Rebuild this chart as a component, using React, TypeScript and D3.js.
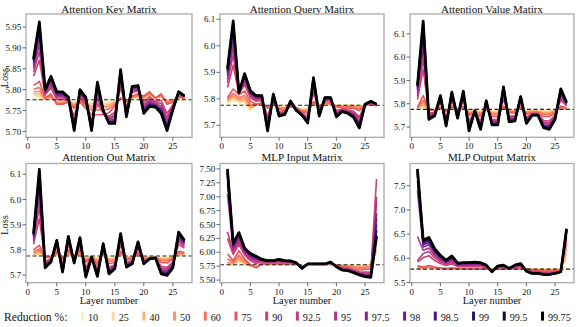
import React from 'react';
import * as d3 from 'd3';

// ---------- data ----------
const layers = [1, 2, 3, 4, 5, 6, 7, 8, 9, 10, 11, 12, 13, 14, 15, 16, 17, 18, 19, 20, 21, 22, 23, 24, 25, 26, 27];
const reductions = ['10', '25', '40', '50', '60', '75', '90', '92.5', '95', '97.5', '98', '98.5', '99', '99.5', '99.75'];
const seriesColors = ['#fcf6b4', '#fdd89c', '#fdb27b', '#fc9566', '#f5735c', '#e8555f', '#d0416d', '#c23b7e', '#a9338c', '#86268f', '#6a1f92', '#4b1486', '#26175a', '#100c26', '#000000'];
const baselineLoss = 5.776;
const xTicks = [0, 5, 10, 15, 20, 25];

// Attention Key Matrix (one row per reduction %)
const attnKey = [
  [5.783,5.776,5.776,5.778,5.772,5.772,5.774,5.770,5.776,5.772,5.770,5.774,5.772,5.772,5.774,5.778,5.776,5.779,5.780,5.778,5.785,5.780,5.782,5.776,5.776,5.780,5.776],
  [5.787,5.783,5.777,5.780,5.771,5.771,5.773,5.768,5.775,5.769,5.766,5.769,5.767,5.768,5.772,5.778,5.775,5.780,5.782,5.779,5.787,5.780,5.783,5.774,5.775,5.781,5.777],
  [5.791,5.789,5.777,5.782,5.770,5.770,5.773,5.766,5.774,5.767,5.761,5.764,5.762,5.764,5.770,5.779,5.774,5.781,5.783,5.780,5.788,5.780,5.784,5.773,5.774,5.782,5.777],
  [5.795,5.796,5.778,5.783,5.769,5.769,5.772,5.763,5.773,5.764,5.757,5.759,5.758,5.760,5.768,5.779,5.773,5.782,5.785,5.781,5.790,5.780,5.786,5.771,5.773,5.782,5.778],
  [5.801,5.805,5.779,5.786,5.767,5.767,5.771,5.760,5.772,5.761,5.751,5.752,5.751,5.754,5.765,5.779,5.772,5.783,5.787,5.783,5.792,5.780,5.787,5.769,5.772,5.783,5.779],
  [5.810,5.820,5.780,5.790,5.765,5.765,5.770,5.755,5.770,5.755,5.740,5.740,5.740,5.745,5.760,5.780,5.770,5.785,5.790,5.785,5.795,5.780,5.790,5.765,5.770,5.785,5.780],
  [5.832,5.870,5.787,5.805,5.776,5.776,5.774,5.736,5.781,5.764,5.727,5.767,5.744,5.736,5.746,5.804,5.758,5.793,5.797,5.770,5.783,5.772,5.774,5.743,5.764,5.789,5.782],
  [5.842,5.891,5.790,5.811,5.780,5.780,5.776,5.729,5.785,5.769,5.721,5.779,5.745,5.732,5.740,5.814,5.753,5.797,5.800,5.764,5.778,5.769,5.767,5.734,5.761,5.790,5.783],
  [5.850,5.908,5.792,5.816,5.784,5.784,5.777,5.722,5.789,5.772,5.716,5.788,5.746,5.729,5.735,5.822,5.748,5.799,5.802,5.759,5.773,5.766,5.761,5.726,5.759,5.791,5.783],
  [5.857,5.925,5.795,5.821,5.787,5.787,5.779,5.716,5.792,5.775,5.712,5.798,5.747,5.726,5.730,5.830,5.744,5.802,5.805,5.754,5.769,5.764,5.755,5.718,5.757,5.792,5.784],
  [5.862,5.936,5.796,5.824,5.790,5.790,5.780,5.712,5.795,5.777,5.709,5.804,5.748,5.724,5.726,5.836,5.741,5.804,5.806,5.751,5.766,5.762,5.751,5.713,5.755,5.793,5.784],
  [5.866,5.945,5.798,5.827,5.791,5.791,5.781,5.708,5.796,5.779,5.707,5.809,5.749,5.722,5.724,5.840,5.739,5.805,5.808,5.748,5.764,5.761,5.749,5.710,5.754,5.794,5.784],
  [5.870,5.952,5.799,5.829,5.793,5.793,5.781,5.706,5.798,5.780,5.705,5.813,5.749,5.721,5.722,5.843,5.737,5.806,5.809,5.746,5.762,5.760,5.746,5.706,5.753,5.794,5.785],
  [5.872,5.958,5.799,5.831,5.794,5.794,5.782,5.704,5.799,5.781,5.703,5.816,5.750,5.720,5.720,5.846,5.736,5.807,5.809,5.744,5.761,5.759,5.744,5.704,5.753,5.795,5.785],
  [5.874,5.962,5.800,5.832,5.795,5.795,5.782,5.702,5.800,5.782,5.702,5.818,5.750,5.719,5.719,5.848,5.735,5.808,5.810,5.743,5.760,5.758,5.743,5.702,5.752,5.795,5.785],
];

// Attention Query Matrix
const attnQuery = [
  [5.785,5.792,5.785,5.780,5.755,5.776,5.776,5.770,5.776,5.772,5.772,5.776,5.768,5.762,5.766,5.778,5.774,5.778,5.778,5.776,5.778,5.778,5.778,5.776,5.776,5.778,5.774],
  [5.788,5.799,5.790,5.788,5.760,5.777,5.777,5.769,5.777,5.770,5.769,5.775,5.768,5.760,5.763,5.780,5.773,5.780,5.779,5.775,5.776,5.776,5.776,5.773,5.776,5.778,5.774],
  [5.791,5.806,5.794,5.795,5.766,5.777,5.779,5.769,5.779,5.768,5.767,5.774,5.767,5.758,5.760,5.782,5.773,5.782,5.780,5.774,5.774,5.774,5.774,5.770,5.776,5.779,5.774],
  [5.794,5.812,5.799,5.803,5.771,5.778,5.780,5.768,5.780,5.767,5.764,5.773,5.767,5.757,5.757,5.783,5.772,5.783,5.781,5.773,5.772,5.772,5.772,5.767,5.776,5.779,5.774],
  [5.798,5.821,5.805,5.813,5.778,5.779,5.782,5.767,5.782,5.764,5.761,5.772,5.766,5.754,5.752,5.786,5.771,5.786,5.783,5.772,5.770,5.770,5.770,5.762,5.775,5.779,5.775],
  [5.805,5.837,5.815,5.830,5.790,5.780,5.785,5.765,5.785,5.760,5.755,5.770,5.765,5.750,5.745,5.790,5.770,5.790,5.785,5.770,5.765,5.765,5.765,5.755,5.775,5.780,5.775],
  [5.843,5.927,5.818,5.853,5.804,5.791,5.794,5.735,5.797,5.751,5.750,5.778,5.762,5.746,5.732,5.822,5.758,5.795,5.792,5.757,5.760,5.758,5.753,5.732,5.777,5.784,5.777],
  [5.860,5.966,5.820,5.863,5.810,5.796,5.799,5.722,5.802,5.748,5.748,5.781,5.761,5.744,5.727,5.835,5.753,5.798,5.795,5.751,5.759,5.755,5.748,5.723,5.778,5.786,5.778],
  [5.873,5.996,5.821,5.870,5.815,5.800,5.802,5.712,5.805,5.745,5.746,5.784,5.759,5.743,5.723,5.846,5.748,5.799,5.797,5.746,5.757,5.753,5.743,5.715,5.778,5.787,5.778],
  [5.886,6.027,5.822,5.878,5.820,5.804,5.805,5.701,5.809,5.742,5.745,5.786,5.758,5.741,5.718,5.857,5.744,5.801,5.800,5.742,5.755,5.750,5.739,5.707,5.779,5.788,5.779],
  [5.894,6.048,5.822,5.883,5.823,5.806,5.807,5.694,5.812,5.740,5.744,5.788,5.758,5.740,5.715,5.864,5.741,5.802,5.801,5.739,5.754,5.749,5.736,5.702,5.779,5.789,5.779],
  [5.901,6.063,5.823,5.887,5.825,5.808,5.809,5.689,5.814,5.738,5.743,5.789,5.757,5.739,5.713,5.869,5.739,5.803,5.803,5.737,5.754,5.747,5.734,5.698,5.779,5.790,5.779],
  [5.906,6.076,5.823,5.890,5.827,5.810,5.810,5.685,5.816,5.737,5.742,5.790,5.757,5.739,5.712,5.874,5.737,5.804,5.804,5.735,5.753,5.746,5.732,5.695,5.780,5.790,5.780],
  [5.911,6.086,5.824,5.893,5.829,5.811,5.811,5.682,5.817,5.736,5.741,5.791,5.756,5.738,5.710,5.877,5.736,5.805,5.804,5.733,5.752,5.746,5.731,5.692,5.780,5.791,5.780],
  [5.914,6.094,5.824,5.895,5.830,5.812,5.812,5.679,5.818,5.735,5.741,5.792,5.756,5.738,5.709,5.880,5.735,5.805,5.805,5.732,5.752,5.745,5.730,5.690,5.780,5.791,5.780],
];

// Attention Value Matrix
const attnValue = [
  [5.780,5.778,5.776,5.776,5.776,5.774,5.776,5.776,5.777,5.772,5.772,5.770,5.774,5.770,5.770,5.778,5.774,5.774,5.778,5.772,5.772,5.772,5.770,5.770,5.774,5.778,5.776],
  [5.781,5.787,5.776,5.775,5.777,5.773,5.778,5.775,5.779,5.769,5.770,5.766,5.775,5.766,5.766,5.780,5.772,5.772,5.779,5.769,5.770,5.770,5.766,5.766,5.772,5.780,5.777],
  [5.781,5.795,5.776,5.774,5.779,5.771,5.780,5.774,5.781,5.765,5.768,5.763,5.776,5.763,5.763,5.782,5.770,5.770,5.780,5.767,5.768,5.768,5.763,5.763,5.770,5.782,5.778],
  [5.782,5.804,5.776,5.773,5.780,5.770,5.782,5.773,5.783,5.762,5.767,5.759,5.777,5.759,5.759,5.783,5.768,5.768,5.781,5.764,5.767,5.767,5.759,5.759,5.768,5.783,5.779],
  [5.783,5.815,5.775,5.772,5.782,5.768,5.785,5.772,5.785,5.758,5.764,5.754,5.778,5.754,5.754,5.786,5.765,5.765,5.783,5.761,5.764,5.764,5.754,5.754,5.765,5.786,5.780],
  [5.784,5.835,5.775,5.770,5.785,5.765,5.790,5.770,5.790,5.750,5.760,5.745,5.780,5.745,5.745,5.790,5.760,5.760,5.785,5.755,5.760,5.760,5.745,5.745,5.760,5.790,5.782],
  [5.818,5.947,5.760,5.762,5.803,5.744,5.811,5.759,5.812,5.727,5.764,5.726,5.792,5.732,5.732,5.819,5.747,5.748,5.801,5.741,5.757,5.757,5.728,5.726,5.751,5.816,5.790],
  [5.832,5.995,5.754,5.759,5.810,5.735,5.820,5.754,5.822,5.717,5.765,5.718,5.797,5.727,5.727,5.831,5.741,5.743,5.808,5.735,5.756,5.756,5.721,5.718,5.747,5.827,5.794],
  [5.844,6.033,5.749,5.756,5.816,5.727,5.827,5.750,5.830,5.708,5.766,5.711,5.800,5.723,5.723,5.841,5.736,5.739,5.814,5.730,5.754,5.754,5.715,5.711,5.743,5.836,5.797],
  [5.855,6.072,5.744,5.754,5.822,5.720,5.834,5.746,5.837,5.700,5.767,5.704,5.804,5.718,5.718,5.851,5.732,5.735,5.819,5.725,5.753,5.753,5.709,5.704,5.740,5.845,5.800],
  [5.863,6.097,5.741,5.752,5.826,5.715,5.839,5.744,5.842,5.695,5.768,5.700,5.807,5.715,5.715,5.857,5.729,5.732,5.823,5.722,5.753,5.753,5.706,5.700,5.738,5.851,5.802],
  [5.868,6.117,5.738,5.751,5.829,5.711,5.843,5.742,5.846,5.691,5.769,5.697,5.809,5.713,5.713,5.862,5.727,5.730,5.825,5.720,5.752,5.752,5.703,5.697,5.736,5.855,5.803],
  [5.873,6.133,5.736,5.750,5.832,5.708,5.846,5.740,5.850,5.688,5.769,5.694,5.811,5.712,5.712,5.866,5.725,5.728,5.828,5.718,5.752,5.752,5.700,5.694,5.735,5.859,5.804],
  [5.877,6.145,5.734,5.749,5.834,5.706,5.848,5.739,5.852,5.685,5.770,5.692,5.812,5.710,5.710,5.870,5.723,5.727,5.830,5.716,5.751,5.751,5.698,5.692,5.734,5.862,5.805],
  [5.880,6.155,5.733,5.748,5.835,5.704,5.850,5.738,5.854,5.683,5.770,5.690,5.813,5.709,5.709,5.872,5.722,5.726,5.831,5.715,5.751,5.751,5.697,5.690,5.733,5.864,5.806],
];

// Attention Out Matrix
const attnOut = [
  [5.778,5.778,5.776,5.776,5.777,5.774,5.777,5.776,5.777,5.772,5.774,5.770,5.776,5.772,5.772,5.778,5.774,5.775,5.777,5.774,5.774,5.774,5.772,5.772,5.774,5.778,5.778],
  [5.781,5.784,5.775,5.775,5.780,5.773,5.780,5.775,5.780,5.769,5.773,5.766,5.778,5.768,5.769,5.781,5.772,5.774,5.779,5.772,5.773,5.773,5.769,5.768,5.773,5.781,5.780],
  [5.785,5.790,5.774,5.774,5.782,5.771,5.784,5.774,5.784,5.765,5.773,5.761,5.780,5.764,5.765,5.783,5.770,5.772,5.781,5.770,5.771,5.771,5.765,5.765,5.771,5.783,5.782],
  [5.788,5.796,5.773,5.773,5.785,5.770,5.787,5.773,5.787,5.762,5.772,5.757,5.782,5.760,5.762,5.786,5.768,5.771,5.783,5.768,5.770,5.770,5.762,5.761,5.770,5.786,5.783],
  [5.792,5.804,5.772,5.772,5.789,5.768,5.792,5.772,5.792,5.758,5.771,5.751,5.785,5.754,5.758,5.789,5.765,5.769,5.785,5.765,5.768,5.768,5.758,5.756,5.768,5.789,5.786],
  [5.800,5.818,5.770,5.770,5.795,5.765,5.800,5.770,5.800,5.750,5.770,5.740,5.790,5.745,5.750,5.795,5.760,5.765,5.790,5.760,5.765,5.765,5.750,5.748,5.765,5.795,5.790],
  [5.823,5.924,5.756,5.764,5.810,5.746,5.819,5.762,5.817,5.730,5.771,5.724,5.802,5.731,5.741,5.820,5.750,5.758,5.805,5.755,5.765,5.766,5.734,5.731,5.752,5.822,5.807],
  [5.833,5.969,5.750,5.761,5.817,5.739,5.827,5.759,5.825,5.721,5.771,5.718,5.808,5.725,5.738,5.830,5.746,5.755,5.811,5.753,5.765,5.767,5.728,5.724,5.747,5.833,5.814],
  [5.840,6.005,5.745,5.759,5.822,5.732,5.833,5.756,5.830,5.714,5.771,5.712,5.812,5.720,5.735,5.838,5.743,5.753,5.816,5.751,5.765,5.767,5.722,5.718,5.743,5.842,5.820],
  [5.848,6.041,5.740,5.757,5.827,5.726,5.840,5.754,5.836,5.707,5.771,5.707,5.816,5.715,5.732,5.847,5.739,5.750,5.821,5.749,5.765,5.768,5.717,5.712,5.738,5.851,5.826],
  [5.853,6.066,5.736,5.755,5.830,5.722,5.844,5.752,5.840,5.702,5.772,5.703,5.819,5.712,5.730,5.852,5.737,5.749,5.824,5.748,5.765,5.768,5.713,5.708,5.735,5.857,5.829],
  [5.857,6.084,5.734,5.754,5.833,5.718,5.848,5.751,5.843,5.699,5.772,5.700,5.821,5.710,5.728,5.857,5.735,5.747,5.827,5.747,5.765,5.769,5.710,5.705,5.733,5.862,5.832],
  [5.860,6.099,5.732,5.753,5.835,5.716,5.850,5.750,5.846,5.696,5.772,5.698,5.823,5.708,5.727,5.860,5.734,5.746,5.829,5.746,5.765,5.769,5.708,5.702,5.732,5.866,5.835],
  [5.863,6.111,5.730,5.753,5.837,5.714,5.852,5.749,5.848,5.694,5.772,5.696,5.824,5.706,5.726,5.863,5.733,5.746,5.831,5.745,5.765,5.769,5.706,5.700,5.730,5.869,5.837],
  [5.865,6.120,5.729,5.752,5.838,5.712,5.854,5.748,5.849,5.692,5.772,5.695,5.825,5.705,5.725,5.865,5.732,5.745,5.832,5.745,5.765,5.769,5.705,5.699,5.729,5.871,5.838],
];

// MLP Input Matrix
const mlpInput = [
  [5.770,5.765,5.800,5.770,5.750,5.740,5.775,5.775,5.775,5.775,5.775,5.775,5.775,5.740,5.775,5.780,5.778,5.778,5.780,5.770,5.770,5.770,5.770,5.770,5.775,5.775,5.830],
  [5.780,5.778,5.835,5.787,5.755,5.737,5.780,5.779,5.780,5.779,5.779,5.779,5.777,5.741,5.777,5.782,5.779,5.780,5.783,5.769,5.766,5.764,5.760,5.757,5.762,5.764,6.000],
  [5.800,5.791,5.869,5.803,5.759,5.734,5.786,5.783,5.786,5.783,5.783,5.783,5.780,5.742,5.780,5.783,5.780,5.782,5.786,5.767,5.761,5.758,5.749,5.743,5.750,5.753,6.050],
  [5.820,5.803,5.904,5.820,5.764,5.731,5.791,5.786,5.791,5.786,5.786,5.786,5.782,5.742,5.782,5.785,5.781,5.783,5.789,5.766,5.757,5.752,5.739,5.730,5.737,5.741,6.400],
  [5.880,5.820,5.950,5.842,5.770,5.727,5.798,5.791,5.798,5.791,5.791,5.791,5.785,5.743,5.785,5.787,5.783,5.786,5.793,5.764,5.751,5.744,5.725,5.712,5.720,5.726,6.700],
  [5.970,5.850,6.030,5.880,5.780,5.720,5.810,5.800,5.810,5.800,5.800,5.800,5.790,5.745,5.790,5.790,5.785,5.790,5.800,5.760,5.740,5.730,5.700,5.680,5.690,5.700,6.600],
  [6.250,5.960,6.144,5.947,5.850,5.794,5.832,5.818,5.824,5.826,5.818,5.816,5.798,5.733,5.790,5.790,5.787,5.790,5.809,5.753,5.719,5.709,5.677,5.649,5.645,5.648,7.320],
  [6.370,6.007,6.193,5.976,5.880,5.825,5.842,5.825,5.830,5.837,5.825,5.823,5.802,5.728,5.790,5.790,5.788,5.790,5.813,5.750,5.710,5.700,5.667,5.635,5.625,5.625,7.000],
  [7.050,6.044,6.232,5.999,5.904,5.850,5.849,5.831,5.835,5.845,5.831,5.828,5.804,5.723,5.790,5.790,5.788,5.790,5.816,5.748,5.703,5.693,5.658,5.624,5.609,5.607,6.900],
  [7.250,6.082,6.271,6.022,5.928,5.875,5.857,5.837,5.840,5.854,5.837,5.833,5.807,5.719,5.790,5.790,5.789,5.790,5.819,5.745,5.696,5.686,5.650,5.613,5.594,5.589,6.700],
  [7.320,6.107,6.297,6.037,5.944,5.892,5.862,5.841,5.843,5.860,5.841,5.837,5.809,5.716,5.790,5.790,5.789,5.790,5.821,5.744,5.691,5.681,5.645,5.606,5.583,5.577,6.600],
  [7.380,6.125,6.316,6.049,5.956,5.905,5.865,5.844,5.845,5.864,5.844,5.840,5.810,5.714,5.790,5.790,5.789,5.790,5.822,5.742,5.687,5.677,5.641,5.601,5.576,5.568,6.500],
  [7.430,6.141,6.332,6.059,5.966,5.915,5.869,5.847,5.847,5.868,5.847,5.842,5.811,5.712,5.790,5.790,5.790,5.790,5.823,5.741,5.684,5.674,5.638,5.596,5.569,5.561,6.400],
  [7.470,6.154,6.345,6.066,5.974,5.924,5.871,5.849,5.849,5.871,5.849,5.844,5.812,5.711,5.790,5.790,5.790,5.790,5.824,5.741,5.682,5.672,5.635,5.593,5.564,5.555,6.300],
  [7.500,6.163,6.355,6.072,5.980,5.930,5.873,5.850,5.850,5.873,5.850,5.845,5.813,5.710,5.790,5.790,5.790,5.790,5.825,5.740,5.680,5.670,5.633,5.590,5.560,5.550,6.283],
];

// MLP Output Matrix
const mlpOutput = [
  [5.780,5.780,5.790,5.780,5.780,5.780,5.780,5.780,5.780,5.780,5.780,5.780,5.780,5.770,5.780,5.780,5.780,5.780,5.780,5.780,5.780,5.780,5.780,5.780,5.780,5.780,5.850],
  [5.790,5.786,5.799,5.786,5.783,5.782,5.783,5.782,5.782,5.782,5.782,5.782,5.780,5.769,5.780,5.782,5.780,5.782,5.782,5.779,5.776,5.774,5.773,5.771,5.773,5.774,6.000],
  [5.800,5.792,5.808,5.792,5.786,5.783,5.786,5.783,5.783,5.783,5.783,5.783,5.780,5.767,5.780,5.783,5.780,5.783,5.783,5.777,5.771,5.768,5.765,5.762,5.765,5.768,6.100],
  [5.810,5.798,5.817,5.798,5.789,5.785,5.789,5.785,5.785,5.785,5.785,5.785,5.780,5.766,5.780,5.785,5.780,5.785,5.785,5.776,5.767,5.762,5.758,5.753,5.758,5.762,6.200],
  [5.820,5.806,5.829,5.806,5.793,5.787,5.793,5.787,5.787,5.787,5.787,5.787,5.780,5.764,5.780,5.787,5.780,5.787,5.787,5.774,5.761,5.754,5.748,5.741,5.748,5.754,6.300],
  [5.850,5.820,5.850,5.820,5.800,5.790,5.800,5.790,5.790,5.790,5.790,5.790,5.780,5.760,5.780,5.790,5.780,5.790,5.790,5.770,5.750,5.740,5.730,5.720,5.730,5.740,6.350],
  [5.920,6.016,6.053,5.953,5.891,5.850,5.888,5.829,5.832,5.832,5.836,5.832,5.808,5.746,5.801,5.815,5.784,5.815,5.825,5.757,5.727,5.721,5.707,5.700,5.714,5.733,6.420],
  [5.950,6.100,6.140,6.010,5.930,5.875,5.925,5.845,5.850,5.850,5.855,5.850,5.820,5.740,5.810,5.825,5.785,5.825,5.840,5.752,5.718,5.713,5.697,5.692,5.708,5.730,6.460],
  [6.450,6.167,6.210,6.056,5.961,5.895,5.955,5.858,5.864,5.864,5.871,5.864,5.830,5.735,5.817,5.833,5.786,5.833,5.852,5.747,5.710,5.706,5.689,5.685,5.702,5.728,6.500],
  [7.400,6.234,6.279,6.101,5.992,5.916,5.985,5.871,5.879,5.879,5.886,5.879,5.839,5.730,5.824,5.842,5.787,5.842,5.864,5.743,5.702,5.699,5.681,5.679,5.697,5.725,6.530],
  [7.600,6.279,6.326,6.132,6.013,5.929,6.005,5.880,5.888,5.888,5.897,5.888,5.846,5.727,5.829,5.847,5.788,5.847,5.872,5.740,5.697,5.695,5.676,5.674,5.693,5.724,6.550],
  [7.700,6.313,6.360,6.154,6.029,5.940,6.020,5.887,5.896,5.896,5.904,5.896,5.850,5.725,5.833,5.852,5.789,5.852,5.878,5.737,5.693,5.692,5.672,5.671,5.690,5.722,6.570],
  [7.780,6.341,6.389,6.173,6.042,5.948,6.033,5.892,5.902,5.902,5.911,5.902,5.854,5.723,5.836,5.855,5.789,5.855,5.883,5.736,5.690,5.689,5.669,5.668,5.688,5.721,6.590],
  [7.820,6.363,6.413,6.189,6.052,5.955,6.043,5.897,5.906,5.906,5.916,5.906,5.858,5.721,5.838,5.858,5.790,5.858,5.887,5.734,5.687,5.687,5.666,5.666,5.686,5.721,6.600],
  [7.850,6.380,6.430,6.200,6.060,5.960,6.050,5.900,5.910,5.910,5.920,5.910,5.860,5.720,5.840,5.860,5.790,5.860,5.890,5.733,5.685,5.685,5.664,5.664,5.685,5.720,6.610],
];

const panelTitles = ['Attention Key Matrix', 'Attention Query Matirx', 'Attention Value Matirx', 'Attention Out Matrix', 'MLP Input Matrix', 'MLP Output Matrix'];
const panelData = [attnKey, attnQuery, attnValue, attnOut, mlpInput, mlpOutput];
const yTicksKey = [5.70, 5.75, 5.80, 5.85, 5.90, 5.95];
const yTicksAttn = [5.7, 5.8, 5.9, 6.0, 6.1];
const yTicksMlpIn = [5.50, 5.75, 6.00, 6.25, 6.50, 6.75, 7.00, 7.25, 7.50];
const yTicksMlpOut = [5.5, 6.0, 6.5, 7.0, 7.5];
const panelYTicks = [yTicksKey, yTicksAttn, yTicksAttn, yTicksAttn, yTicksMlpIn, yTicksMlpOut];
const panelTickDecimals = [2, 1, 1, 1, 2, 1];
const panelYLimits = [[5.686, 5.981], [5.655, 6.12], [5.656, 6.185], [5.67, 6.143], [5.4525, 7.5975], [5.495, 7.96]];

// ---------- layout / style ----------
const W = 578, H = 327;
const FONT = "Liberation Serif, Times New Roman, DejaVu Serif, serif";
const colBounds = [[26, 192], [220, 384], [410, 574]];
const rowBounds = [[14, 137.3], [163.5, 282.7]];

function measure(text: string, size: number) {
  const c = document.createElement('canvas').getContext('2d');
  if (!c) return text.length * size * 0.5;
  c.font = `${size}px "Liberation Serif", serif`;
  return c.measureText(text).width;
}

function Panel({ idx }: { idx: number }) {
  const col = idx % 3, row = Math.floor(idx / 3);
  const [x0, x1] = colBounds[col];
  const [y0, y1] = rowBounds[row];
  const x = d3.scaleLinear().domain([-0.3, 28.3]).range([x0, x1]);
  const y = d3.scaleLinear().domain(panelYLimits[idx]).range([y1, y0]);
  const line = d3.line<number>().x((_, i) => x(layers[i])).y((d) => y(d));
  const data = panelData[idx];
  const widths = data.map((_, i) => (i === 14 ? 2.7 : i === 13 ? 2.2 : i === 12 ? 1.9 : 1.6));
  const fmt = d3.format(`.${panelTickDecimals[idx]}f`);
  return (
    <g>
      <text x={(x0 + x1) / 2} y={row === 0 ? 12.6 : 160.8} textAnchor="middle" fontSize={11} fontFamily={FONT} fill="#111">
        {panelTitles[idx]}
      </text>
      {data.map((s, i) => (
        <path key={i} d={line(s) || ''} fill="none" stroke={seriesColors[i]} strokeWidth={widths[i]} strokeLinejoin="round" />
      ))}
      <line x1={x0} x2={x1} y1={y(baselineLoss)} y2={y(baselineLoss)} stroke="#222" strokeWidth={1.1} strokeDasharray="4,2.5" />
      <rect x={x0} y={y0} width={x1 - x0} height={y1 - y0} fill="none" stroke="#aaaaaa" strokeWidth={1.3} />
      {xTicks.map((t) => (
        <g key={t}>
          <line x1={x(t)} x2={x(t)} y1={y1} y2={y1 + 3.5} stroke="#444" strokeWidth={0.8} />
          <text x={x(t)} y={y1 + 11.8} textAnchor="middle" fontSize={9} fontFamily={FONT} fill="#111">{t}</text>
        </g>
      ))}
      {panelYTicks[idx].map((t) => (
        <g key={t}>
          <line x1={x0 - 3.5} x2={x0} y1={y(t)} y2={y(t)} stroke="#444" strokeWidth={0.8} />
          <text x={x0 - 4.8} y={y(t) + 3.1} textAnchor="end" fontSize={9} fontFamily={FONT} fill="#111">{fmt(t)}</text>
        </g>
      ))}
      {col === 0 && (
        <text transform={`translate(7.8,${(y0 + y1) / 2 + 2}) rotate(-90)`} textAnchor="middle" fontSize={10.4} fontFamily={FONT} fill="#111">Loss</text>
      )}
      {row === 1 && (
        <text x={(x0 + x1) / 2} y={304} textAnchor="middle" fontSize={10.4} fontFamily={FONT} fill="#111">Layer number</text>
      )}
    </g>
  );
}

function Legend() {
  let cx = 81;
  const items = reductions.map((r, i) => {
    const tw = measure(r, 10.1);
    const item = { r, i, sx: cx, tx: cx + 7 };
    cx += 7 + tw + 13.6;
    return item;
  });
  return (
    <g>
      <text x={4} y={320.5} fontSize={11.6} fontFamily={FONT} fill="#111">Reduction %:</text>
      {items.map((it) => (
        <g key={it.r}>
          <rect x={it.sx} y={311.6} width={3} height={9} fill={seriesColors[it.i]} />
          <text x={it.tx} y={320.5} fontSize={10.1} fontFamily={FONT} fill="#111">{it.r}</text>
        </g>
      ))}
    </g>
  );
}

export default function App() {
  return (
    <div style={{ position: 'absolute', left: 0, top: 0, width: W, height: H, background: '#fff' }}>
      <svg width={W} height={H} viewBox={`0 0 ${W} ${H}`} style={{ display: 'block' }}>
        <rect x={0} y={0} width={W} height={H} fill="#fff" />
        {panelData.map((_, i) => (
          <Panel key={i} idx={i} />
        ))}
        <Legend />
      </svg>
    </div>
  );
}
